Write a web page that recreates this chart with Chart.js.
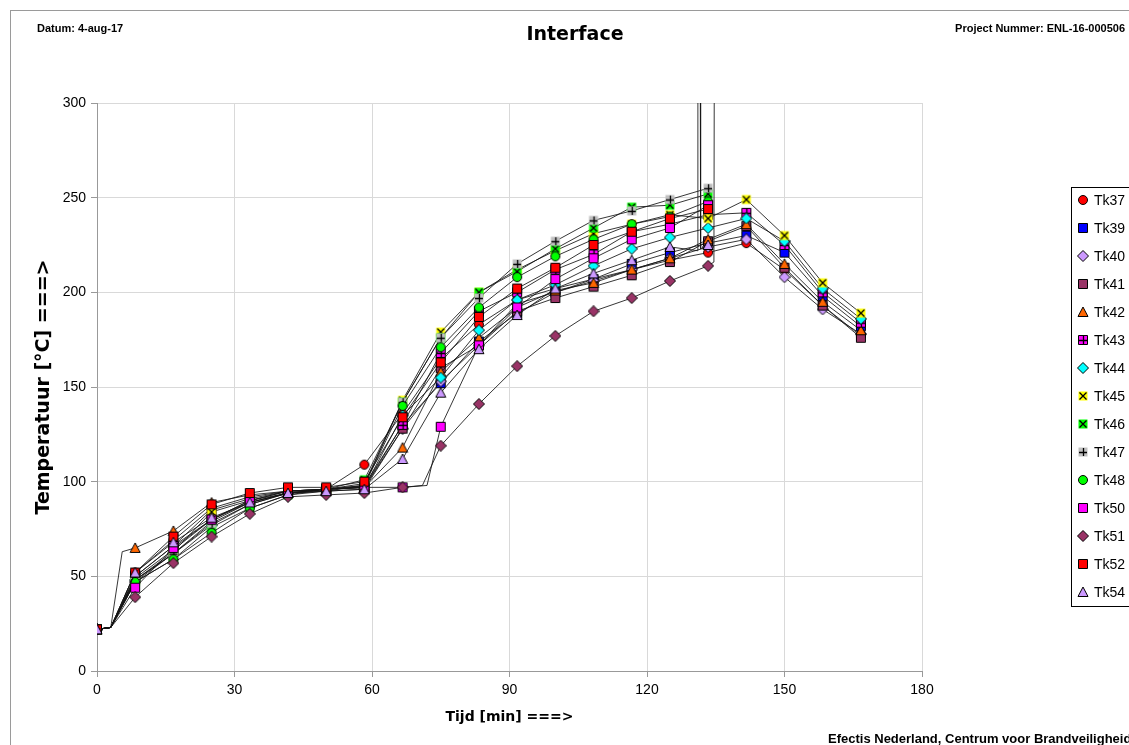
<!DOCTYPE html>
<html>
<head>
<meta charset="utf-8">
<script src="https://cdn.jsdelivr.net/npm/chart.js@4.4.0/dist/chart.umd.min.js"></script>
<style>
  html, body { margin: 0; padding: 0; background: #fff; }
  #wrap { position: relative; width: 1129px; height: 745px; overflow: hidden; }
</style>
</head>
<body>
<div id="wrap"><canvas id="myChart" width="1129" height="745"></canvas></div>
<script>
// meettijden met markers [min]
var times = [0, 8.33, 16.67, 25, 33.33, 41.67, 50, 58.33, 66.67, 75, 83.33, 91.67, 100, 108.33, 116.67, 125, 133.33, 141.67, 150, 158.33, 166.67];
var xTicks = [0, 30, 60, 90, 120, 150, 180];
var yTicks = [0, 50, 100, 150, 200, 250, 300];

// temperaturen [°C] per thermokoppel
var tk37 = [22, 52, 69, 86, 92, 95, 96, 109, 136, 165, 183, 196, 202, 207, 212, 217, 221, 226, 212, 193, 177];
var tk39 = [22, 49, 64, 80, 90, 94, 96, 97, 130, 152, 174, 189, 200, 207, 215, 221, 226, 230, 221, 198, 182];
var tk40 = [22, 47, 62, 79, 89, 94, 95, 96, 128, 153, 172, 194, 200, 206, 212, 218, 224, 228, 208, 191, 178];
var tk41 = [22, 50, 66, 80, 89, 94, 96, 97, 128, 160, 172, 190, 197, 203, 209, 216, 227, 235, 213, 193, 176];
var tk42 = [22, 65, 74, 89, 93, 95, 96, 97, 118, 158, 176, 192, 201, 205, 212, 218, 228, 236, 215, 195, 180];
var tk43 = [22, 50, 66, 85, 91, 95, 96, 98, 130, 168, 190, 200, 212, 220, 232, 236, 241, 242, 225, 200, 184];
var tk44 = [22, 48, 62, 77, 88, 94, 96, 97, 135, 155, 180, 196, 204, 214, 223, 229, 234, 239, 227, 202, 186];
var tk45 = [22, 48, 63, 84, 90, 95, 96, 98, 143, 179, 200, 212, 222, 231, 236, 241, 239, 249, 230, 205, 189];
var tk46 = [22, 47, 59, 76, 86, 93, 96, 101, 142, 176, 200, 211, 223, 234, 245, 246, 252, null, null, null, null];
var tk47 = [22, 48, 62, 78, 88, 94, 96, 99, 142, 176, 197, 215, 227, 238, 243, 249, 255, null, null, null, null];
var tk48 = [22, 47, 59, 73, 86, 93, 95, 98, 140, 171, 192, 208, 219, 228, 236, 240, 248, null, null, null, null];
var tk50 = [22, 44, 65, 80, 90, 95, 96, 97, 97, 129, 172, 192, 207, 218, 228, 234, 246, null, null, null, null];
var tk51 = [22, 39, 57, 71, 83, 92, 93, 94, 97, 119, 141, 161, 177, 190, 197, 206, 214, null, null, null, null];
var tk52 = [22, 52, 71, 88, 94, 97, 97, 100, 134, 163, 187, 202, 213, 225, 232, 239, 244, null, null, null, null];
var tk54 = [22, 52, 68, 81, 89, 94, 95, 96, 112, 147, 170, 188, 202, 210, 217, 224, 225, null, null, null, null];

// extra punkten uit de lijnen (zonder marker)
var startBend = [3, 23];
var tk42Early = [[5.5, 63]];
var tk50Late = [[72, 98]];
var tk51Late = [[71, 98]];
var tk54Spike = [[131.0, 222], [131.1, 340], [131.6, 340], [131.7, 223]];
var tk51Spike = [[134.6, 216], [134.7, 340]];

function marker(shape, fill, deco) {
  var c = document.createElement('canvas');
  c.width = 12; c.height = 12;
  var g = c.getContext('2d');
  g.translate(6, 6);
  g.fillStyle = fill;
  g.strokeStyle = '#000';
  g.lineWidth = 1;
  g.beginPath();
  if (shape == 'circle') {
    g.arc(0, 0, 4.5, 0, Math.PI * 2);
  } else if (shape == 'diamond') {
    g.moveTo(0, -5.5); g.lineTo(5.5, 0); g.lineTo(0, 5.5); g.lineTo(-5.5, 0); g.closePath();
  } else if (shape == 'triangle') {
    g.moveTo(0, -5); g.lineTo(5, 4.5); g.lineTo(-5, 4.5); g.closePath();
  } else {
    g.rect(-4.5, -4.5, 9, 9);
  }
  g.fill();
  if (!deco || deco == 'plusBox') g.stroke();
  if (deco) {
    g.beginPath();
    if (deco == 'x') {
      g.moveTo(-3.5, -3.5); g.lineTo(3.5, 3.5); g.moveTo(3.5, -3.5); g.lineTo(-3.5, 3.5);
    } else {
      g.moveTo(-4, 0.5); g.lineTo(4, 0.5); g.moveTo(0.5, -4); g.lineTo(0.5, 4);
    }
    g.lineWidth = 1.3;
    g.stroke();
  }
  return c;
}

var series = [
  { label: 'Tk37', data: tk37, extra: [], style: marker('circle', '#ff0000') },
  { label: 'Tk39', data: tk39, extra: [], style: marker('square', '#0000ff') },
  { label: 'Tk40', data: tk40, extra: [], style: marker('diamond', '#cc99ff') },
  { label: 'Tk41', data: tk41, extra: [], style: marker('square', '#993366') },
  { label: 'Tk42', data: tk42, extra: tk42Early, style: marker('triangle', '#ff6600') },
  { label: 'Tk43', data: tk43, extra: [], style: marker('square', '#ff00ff', 'plusBox') },
  { label: 'Tk44', data: tk44, extra: [], style: marker('diamond', '#00ffff') },
  { label: 'Tk45', data: tk45, extra: [], style: marker('square', '#ffff00', 'x') },
  { label: 'Tk46', data: tk46, extra: [], style: marker('square', '#00ff00', 'x') },
  { label: 'Tk47', data: tk47, extra: [], style: marker('square', '#c0c0c0', 'plus') },
  { label: 'Tk48', data: tk48, extra: [], style: marker('circle', '#00ff00') },
  { label: 'Tk50', data: tk50, extra: tk50Late, style: marker('square', '#ff00ff') },
  { label: 'Tk51', data: tk51, extra: tk51Late.concat(tk51Spike), style: marker('diamond', '#993366') },
  { label: 'Tk52', data: tk52, extra: [], style: marker('square', '#ff0000') },
  { label: 'Tk54', data: tk54, extra: tk54Spike, style: marker('triangle', '#cc99ff') }
];

var datasets = series.map(function (s, i) {
  var pts = [];
  times.forEach(function (t, j) {
    if (s.data[j] !== null) pts.push({ x: t, y: s.data[j] });
  });
  pts.push({ x: startBend[0], y: startBend[1] });
  s.extra.forEach(function (p) { pts.push({ x: p[0], y: p[1] }); });
  pts.sort(function (a, b) { return a.x - b.x; });
  return {
    label: s.label,
    data: pts,
    borderColor: 'rgba(20,20,20,0.85)',
    borderWidth: 1,
    pointStyle: s.style,
    pointRadius: function (ctx) { return times.indexOf(ctx.raw.x) >= 0 ? 5 : 0; },
    pointHoverRadius: 0,
    tension: 0,
    order: series.length - i
  };
});

var tickFont = 'Liberation Sans';

var frame = {
  id: 'frame',
  afterDraw: function (chart) {
    var c = chart.ctx;
    c.save();
    c.strokeStyle = '#9a9a9a';
    c.lineWidth = 1;
    c.strokeRect(10.5, 10.5, 1300, 900);

    c.fillStyle = '#000';
    c.textBaseline = 'middle';
    c.font = 'bold 11px "Liberation Sans"';
    c.textAlign = 'left';
    c.fillText('Datum: 4-aug-17', 37, 29);
    c.textAlign = 'right';
    c.fillText('Project Nummer: ENL-16-000506', 1125, 29);
    c.textAlign = 'center';
    c.font = 'bold 19px "DejaVu Sans"';
    c.fillText('Interface', 575, 35);
    c.textAlign = 'left';
    c.font = 'bold 13px "Liberation Sans"';
    c.fillText('Efectis Nederland, Centrum voor Brandveiligheid', 828, 739);

    // legenda
    c.strokeStyle = '#000';
    c.strokeRect(1071.5, 187.5, 100, 419);
    c.font = '14px ' + tickFont;
    series.forEach(function (s, i) {
      var y = 200 + i * 28;
      c.drawImage(s.style, 1083 - 6, y - 6);
      c.fillText(s.label, 1094, y + 1);
    });
    c.restore();
  }
};

new Chart(document.getElementById('myChart'), {
  type: 'line',
  data: { datasets: datasets },
  plugins: [frame],
  options: {
    responsive: false,
    devicePixelRatio: 1,
    animation: false,
    layout: { padding: { left: 29, top: 103, right: 207, bottom: 15 } },
    plugins: { legend: { display: false }, tooltip: { enabled: false } },
    scales: {
      x: {
        type: 'linear', min: 0, max: 180,
        afterBuildTicks: function (scale) { scale.ticks = xTicks.map(function (v) { return { value: v }; }); },
        afterFit: function (scale) { scale.height = 59; },
        ticks: { font: { family: tickFont, size: 14 }, color: '#000', padding: 5, maxRotation: 0 },
        grid: { color: '#d9d9d9', tickLength: 6, tickColor: '#999' },
        border: { color: '#999' },
        title: { display: true, text: 'Tijd [min] ===>', font: { family: 'DejaVu Sans', size: 14, weight: 'bold' }, color: '#000', padding: { top: 4, bottom: 4 } }
      },
      y: {
        min: 0, max: 300,
        afterBuildTicks: function (scale) { scale.ticks = yTicks.map(function (v) { return { value: v }; }); },
        afterFit: function (scale) { scale.width = 68; },
        ticks: { font: { family: tickFont, size: 14 }, color: '#000', padding: 5 },
        grid: { color: '#d9d9d9', tickLength: 6, tickColor: '#999' },
        border: { color: '#999' },
        title: { display: true, text: 'Temperatuur [°C] ===>', font: { family: 'DejaVu Sans', size: 19, weight: 'bold' }, color: '#000', padding: { top: 4, bottom: 4 } }
      }
    }
  }
});
</script>
</body>
</html>
